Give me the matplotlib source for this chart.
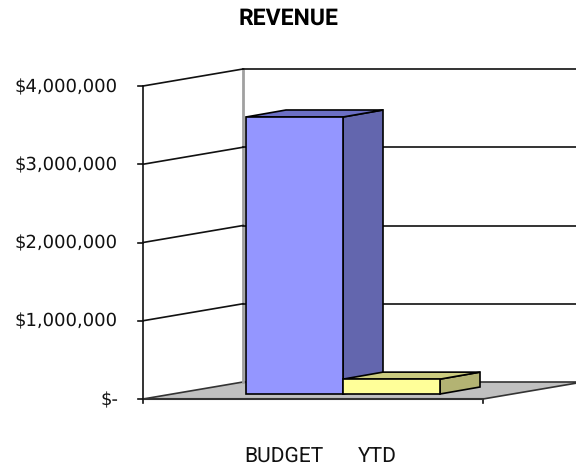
import matplotlib
matplotlib.use("Agg")
import matplotlib.pyplot as plt
from matplotlib.patches import Polygon

categories = ["BUDGET", "YTD"]
values = [3540000, 190000]
tick_values = [0, 1000000, 2000000, 3000000, 4000000]
tick_labels = ["$-", "$1,000,000", "$2,000,000", "$3,000,000", "$4,000,000"]

face_colors = ["#9496ff", "#ffff99"]
top_colors = ["#6b6fc4", "#cccc80"]
side_colors = ["#6366ae", "#b3b373"]

plt.rcParams["text.hinting"] = "no_hinting"
plt.rcParams["text.hinting_factor"] = 1

fig = plt.figure(figsize=(5.76, 4.70), dpi=100)
ax = fig.add_axes([0, 0, 1, 1])
# the axes runs in pixels of the image, the 3d box is sheared by hand
ax.set_xlim(0, 576)
ax.set_ylim(470, 0)
ax.axis("off")

x0, x1 = 143, 483
y0, y4 = 399, 86
depth_x, depth_y = 100, -17
per_unit = (y0 - y4) / 4000000


def val_y(v):
    return y0 - v * per_unit


# floor
ax.add_patch(Polygon([(x0, y0), (x1, y0), (x1 + depth_x, y0 + depth_y), (x0 + depth_x, y0 + depth_y)],
                     facecolor="#c0c0c0", edgecolor="#333333", lw=1.2, zorder=1))

# back wall line and left wall
ax.plot([x0 + depth_x] * 2, [val_y(4000000) + depth_y, y0 + depth_y], color="#a0a0a0", lw=2, zorder=2)
ax.plot([x0, x0], [val_y(4000000), y0 + 4], color="#111111", lw=1.2, zorder=3)
ax.plot([x1, x1], [y0, y0 + 4], color="#111111", lw=1.2, zorder=3)
ax.plot([x0, x1], [y0, y0], color="#333333", lw=1.5, zorder=3)

for v, lab in zip(tick_values, tick_labels):
    y = val_y(v)
    ax.plot([x0 - 5, x0], [y, y], color="#111111", lw=1.2, zorder=3)
    ax.text(118, y + 1, lab, ha="right", va="center", fontsize=13.1, color="#111111", family="DejaVu Sans")
    if v > 0:
        ax.plot([x0, x0 + depth_x], [y, y + depth_y], color="#111111", lw=1.2, zorder=2)
        ax.plot([x0 + depth_x, 576], [y + depth_y, y + depth_y], color="#111111", lw=1.2, zorder=2)

# bars, the later one sits on top of the side of the earlier one
bar_left = 246
bar_w = 97
bar_dx, bar_dy = 40, -7
bar_base = 394
for i, v in enumerate(values):
    l = bar_left + i * bar_w
    r = l + bar_w
    t = bar_base - v * per_unit
    z = 5 + i
    ax.add_patch(Polygon([(r, bar_base), (r + bar_dx, bar_base + bar_dy), (r + bar_dx, t + bar_dy), (r, t)],
                         facecolor=side_colors[i], edgecolor="black", lw=1.2, zorder=z))
    ax.add_patch(Polygon([(l, t), (r, t), (r + bar_dx, t + bar_dy), (l + bar_dx, t + bar_dy)],
                         facecolor=top_colors[i], edgecolor="black", lw=1.2, zorder=z))
    ax.add_patch(Polygon([(l, bar_base), (r, bar_base), (r, t), (l, t)],
                         facecolor=face_colors[i], edgecolor="black", lw=1.2, zorder=z))

ax.text(284, 456, categories[0], ha="center", va="center", fontsize=14.8, family="Roboto", color="#111111")
ax.text(377.5, 456, categories[1], ha="center", va="center", fontsize=14.8, family="Roboto", color="#111111")
ax.text(288, 18.5, "REVENUE", ha="center", va="center", fontsize=16.5, fontweight="bold", family="Roboto")

fig.savefig("out.png", dpi=100)
